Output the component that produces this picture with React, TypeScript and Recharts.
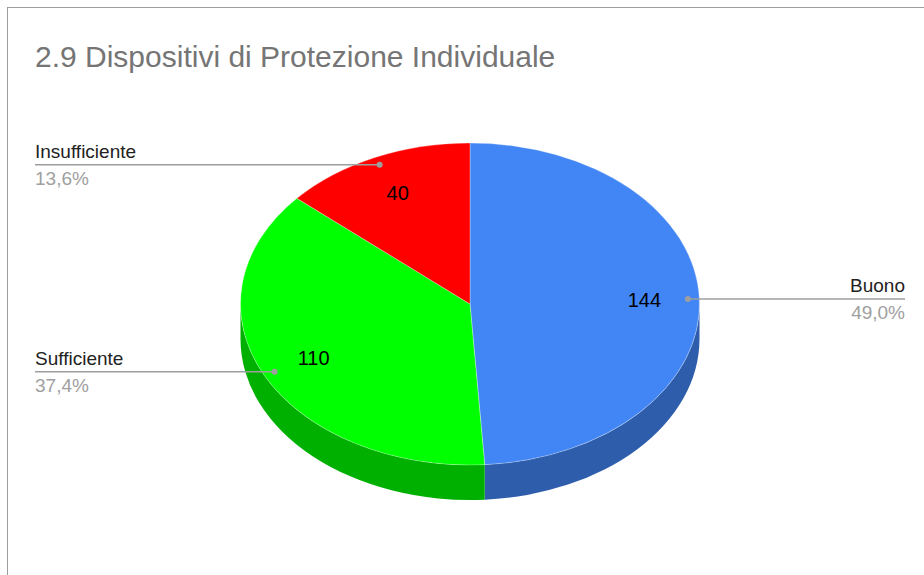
import { PieChart, Pie, Cell } from "recharts";

const TITLE = "2.9 Dispositivi di Protezione Individuale";
const CATEGORIES = ["Buono", "Sufficiente", "Insufficiente"];
const VALUES = [144, 110, 40];
const TOP_COLORS = ["#4285f4", "#00ff00", "#ff0000"];
const SIDE_COLORS = ["#2e5eab", "#00b000", "#b30000"];

const FONT = "'Liberation Sans', Arial, sans-serif";
// chart margin is 5, so these are in plot coords
const CX = 465;
const CY = 299;
const RX = 229.5;
const RY = 161;
const DEPTH = 35;
const RAD = Math.PI / 180;

const data = CATEGORIES.map((name, i) => ({ name, value: VALUES[i] }));

// point on the squashed (elliptical) rim for a recharts angle
function pt(cx: number, cy: number, r: number, a: number, dy = 0) {
  const ry = (r * RY) / RX;
  return [cx + r * Math.cos(a * RAD), cy - ry * Math.sin(a * RAD) + dy];
}

function TopSector(props: any) {
  const { cx, cy, outerRadius, startAngle, endAngle, fill } = props;
  const ry = (outerRadius * RY) / RX;
  const [x1, y1] = pt(cx, cy, outerRadius, startAngle);
  const [x2, y2] = pt(cx, cy, outerRadius, endAngle);
  const large = Math.abs(startAngle - endAngle) > 180 ? 1 : 0;
  const sweep = startAngle > endAngle ? 1 : 0;
  const d = `M${cx},${cy} L${x1},${y1} A${outerRadius},${ry} 0 ${large} ${sweep} ${x2},${y2} Z`;
  return <path d={d} fill={fill} stroke="#ffffff" strokeOpacity={0.5} strokeWidth={0.6} />;
}

function SideSector(props: any) {
  const { cx, cy, outerRadius, startAngle, endAngle, fill } = props;
  const ry = (outerRadius * RY) / RX;
  const hi = Math.min(Math.max(startAngle, endAngle), 0);
  const lo = Math.max(Math.min(startAngle, endAngle), -180);
  if (lo >= hi) return <g />;
  const [ax, ay] = pt(cx, cy, outerRadius, hi);
  const [bx, by] = pt(cx, cy, outerRadius, lo);
  const d = `M${ax},${ay} A${outerRadius},${ry} 0 0 1 ${bx},${by} L${bx},${by + DEPTH} A${outerRadius},${ry} 0 0 0 ${ax},${ay + DEPTH} Z`;
  return <path d={d} fill={fill} />;
}

function renderLabel(props: any) {
  const { cx, cy, outerRadius, midAngle, value, name, percent } = props;
  const [vx, vy] = pt(cx, cy, outerRadius * 0.76, midAngle);
  const [dx, dy] = pt(cx, cy, outerRadius * 0.95, midAngle);
  const right = Math.cos(midAngle * RAD) > 0;
  const ex = right ? 905 : 35;
  const pct = (percent * 100).toFixed(1).replace(".", ",") + "%";
  return (
    <g>
      <text x={vx} y={vy} textAnchor="middle" dominantBaseline="central" fontSize={20} fontFamily={FONT} fill="#000">
        {value}
      </text>
      <line x1={dx} y1={dy} x2={ex} y2={dy} stroke="#9e9e9e" strokeWidth={1.5} />
      <circle cx={dx} cy={dy} r={3} fill="#9e9e9e" />
      <text x={ex} y={dy - 7} textAnchor={right ? "end" : "start"} fontSize={19} fontFamily={FONT} fill="#222">
        {name}
      </text>
      <text x={ex} y={dy + 20} textAnchor={right ? "end" : "start"} fontSize={19} fontFamily={FONT} fill="#a0a0a0">
        {pct}
      </text>
    </g>
  );
}

export default function App() {
  return (
    <div style={{ position: "absolute", left: 0, top: 0, width: 924, height: 575, overflow: "hidden", background: "#fff" }}>
      <div
        style={{
          position: "absolute",
          left: 7,
          top: 7,
          width: 1000,
          height: 1000,
          borderTop: "1px solid #9e9e9e",
          borderLeft: "1px solid #9e9e9e",
        }}
      />
      <div
        style={{
          position: "absolute",
          left: 35,
          top: 42,
          fontFamily: FONT,
          fontSize: 30,
          lineHeight: "30px",
          color: "#757575",
          whiteSpace: "nowrap",
        }}
      >
        {TITLE}
      </div>
      <div style={{ position: "absolute", left: 0, top: 0 }}>
        <PieChart width={924} height={575}>
          <Pie
            data={data}
            dataKey="value"
            nameKey="name"
            cx={CX}
            cy={CY}
            outerRadius={RX}
            startAngle={90}
            endAngle={-270}
            stroke="none"
            isAnimationActive={false}
            shape={SideSector}
            inactiveShape={SideSector}
            activeShape={SideSector}
          >
            {data.map((_, i) => (
              <Cell key={i} fill={SIDE_COLORS[i]} />
            ))}
          </Pie>
          <Pie
            data={data}
            dataKey="value"
            nameKey="name"
            cx={CX}
            cy={CY}
            outerRadius={RX}
            startAngle={90}
            endAngle={-270}
            isAnimationActive={false}
            shape={TopSector}
            inactiveShape={TopSector}
            activeShape={TopSector}
            label={renderLabel}
            labelLine={false}
          >
            {data.map((_, i) => (
              <Cell key={i} fill={TOP_COLORS[i]} />
            ))}
          </Pie>
        </PieChart>
      </div>
    </div>
  );
}
